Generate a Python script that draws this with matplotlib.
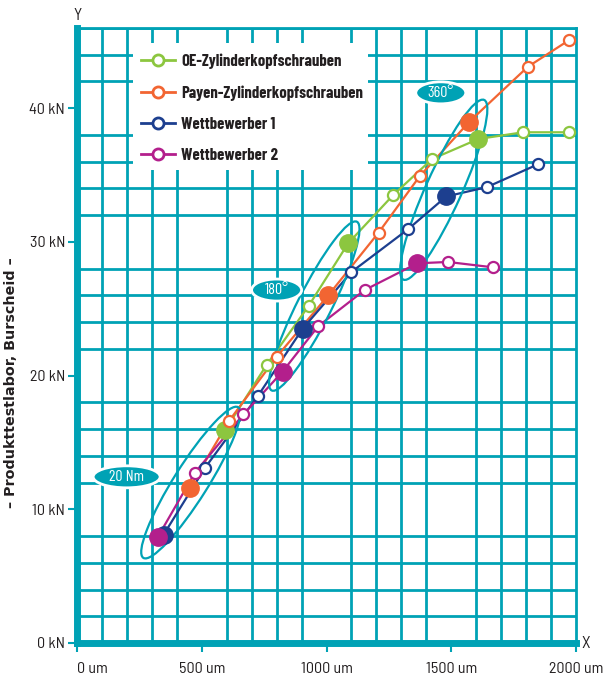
import numpy as np
import matplotlib
matplotlib.use("Agg")
import matplotlib.pyplot as plt
from matplotlib.patches import Ellipse, Rectangle
from matplotlib.lines import Line2D
from matplotlib.transforms import ScaledTranslation
from matplotlib import font_manager

# Werte (x in um, y in kN)
labels = ["OE-Zylinderkopfschrauben", "Payen-Zylinderkopfschrauben",
          "Wettbewerber 1", "Wettbewerber 2"]
x_oe = [593, 760, 928, 1087, 1267, 1423, 1609, 1788, 1973]
y_oe = [15.9, 20.8, 25.2, 29.9, 33.5, 36.2, 37.7, 38.2, 38.2]
x_payen = [451, 609, 800, 1007, 1209, 1373, 1573, 1807, 1973]
y_payen = [11.6, 16.6, 21.4, 26.0, 30.7, 34.9, 39.0, 43.1, 45.1]
x_w1 = [347, 513, 724, 904, 1100, 1327, 1480, 1643, 1847]
y_w1 = [8.1, 13.1, 18.45, 23.5, 27.75, 30.95, 33.4, 34.1, 35.8]
x_w2 = [323, 473, 667, 824, 967, 1153, 1364, 1487, 1667]
y_w2 = [7.9, 12.75, 17.1, 20.3, 23.7, 26.4, 28.4, 28.5, 28.1]
filled_idx = [0, 3, 6]   # Messpunkte 20 Nm, 180°, 360°

x_ticks = [0, 500, 1000, 1500, 2000]
x_ticklabels = ["0 um", "500 um", "1000 um", "1500 um", "2000 um"]
y_ticks = [0, 10, 20, 30, 40]
y_ticklabels = ["0 kN", "10 kN", "20 kN", "30 kN", "40 kN"]

# Markierungen: Text, Mitte Beschriftung (um, kN), Mitte Ellipse (um, kN), Länge/Breite in px, Winkel
stufen = ["20 Nm", "180°", "360°"]
stufe_label_pos = [(199, 12.43), (800, 26.4), (1458, 41.15)]
stufe_ell_pos = [(456, 12.0), (951, 25.2), (1470, 33.9)]
stufe_ell_size = [(178, 34, 57.8), (189, 34, 63.2), (197, 36, 65.8)]
stufe_label_size = [(67, 22), (50, 22), (50, 22)]

teal = "#00A2B5"
colors = ["#8CC63F", "#F26532", "#1D3F8F", "#B31F8C"]
textcol = "#231F20"

# schmale DIN-artige Schrift, falls vorhanden
names = {f.name for f in font_manager.fontManager.ttflist}

def pick(cands):
    for n in cands:
        if n in names:
            return dict(family=n)
    return dict(family="DejaVu Sans", stretch="condensed")

cond = pick(["Barlow Semi Condensed", "Roboto Condensed", "PT Sans Narrow",
             "Archivo Narrow", "Liberation Sans Narrow"])
cond_leg = pick(["Barlow Condensed", "Barlow Semi Condensed", "Roboto Condensed",
                 "PT Sans Narrow", "Liberation Sans Narrow"])

fig = plt.figure(figsize=(6.04, 6.75), dpi=100)
ax = fig.add_axes([77/604, 1-643/675, 499/604, 615/675])
ax.set_xlim(0, 2000)
ax.set_ylim(0, 46)

# Raster
ax.set_xticks(np.arange(0, 2001, 100), minor=True)
ax.set_yticks(np.arange(0, 47, 2), minor=True)
ax.grid(which="minor", color=teal, lw=2.0)
ax.set_axisbelow(True)
ax.tick_params(which="minor", length=0)

for s in ["left", "bottom"]:
    ax.spines[s].set_color(teal)
    ax.spines[s].set_linewidth(5)
for s in ["top", "right"]:
    ax.spines[s].set_color(teal)
    ax.spines[s].set_linewidth(2)

ax.set_xticks(x_ticks)
ax.set_xticklabels(x_ticklabels, fontsize=11.5, color=textcol, **cond)
ax.set_yticks(y_ticks)
ax.set_yticklabels(y_ticklabels, fontsize=11.5, color=textcol, **cond)
ax.tick_params(which="major", direction="out", length=6.5, width=1.5, color=teal)
ax.tick_params(axis="x", pad=7)
ax.tick_params(axis="y", pad=2)
ax.get_xticklabels()[0].set_ha("left")

# Kurven
series = [(x_oe, y_oe), (x_payen, y_payen), (x_w1, y_w1), (x_w2, y_w2)]
for i, (xs, ys) in enumerate(series):
    c = colors[i]
    ax.plot(xs, ys, color=c, lw=1.6, zorder=3)
    open_idx = [k for k in range(len(xs)) if k not in filled_idx]
    ax.plot([xs[k] for k in open_idx], [ys[k] for k in open_idx], ls="none",
            marker="o", ms=8, mfc="white", mec=c, mew=1.6, zorder=5)
    ax.plot([xs[k] for k in filled_idx], [ys[k] for k in filled_idx], ls="none",
            marker="o", ms=12.5, mfc=c, mec=c, zorder=5 + i * 0.1)

# Ellipsen um die Messpunkte
for (cx, cy), (L, W, ang) in zip(stufe_ell_pos, stufe_ell_size):
    tr = fig.dpi_scale_trans + ScaledTranslation(cx, cy, ax.transData)
    ax.add_patch(Ellipse((0, 0), L/100, W/100, angle=ang, transform=tr,
                         fill=False, ec=teal, lw=1.6, zorder=4, clip_on=False))

for txt, (lx, ly), (w, h) in zip(stufen, stufe_label_pos, stufe_label_size):
    tr = fig.dpi_scale_trans + ScaledTranslation(lx, ly, ax.transData)
    ax.add_patch(Ellipse((0, 0), w/100, h/100, transform=tr, fc=teal, ec="white",
                         lw=2, zorder=6, clip_on=False))
    ax.text(lx, ly, txt, ha="center", va="center", color="white", fontsize=11.5,
            zorder=7, **cond_leg)

# Legende
leg_rect = Rectangle(((133-77)/499, (643-170)/615), 235/499, 127/615,
                     transform=ax.transAxes, fc="white", ec="none", zorder=1.5)
ax.add_patch(leg_rect)
handles = [Line2D([], [], color=c, lw=2, marker="o", ms=8, mfc="white", mec=c, mew=2)
           for c in colors]
leg = ax.legend(handles, labels, loc="upper left", bbox_to_anchor=(0.128, 0.958),
                frameon=False, borderpad=0, borderaxespad=0, handlelength=2.05,
                handletextpad=0.38, labelspacing=0.97,
                prop=dict(weight="bold", size=12, **cond_leg))
for t in leg.get_texts():
    t.set_color(textcol)
leg.set_zorder(8)

fig.text(78/604, 1-15/675, "Y", ha="center", va="center", fontsize=12,
         color=textcol, **cond)
fig.text(586/604, 1-643/675, "X", ha="center", va="center", fontsize=12,
         color=textcol, **cond)
fig.text(11/604, 1-383/675, "– Produkttestlabor, Burscheid –", rotation=90,
         ha="center", va="center", fontsize=10.3, weight="bold", color=textcol)

fig.savefig("out.png", dpi=100)
